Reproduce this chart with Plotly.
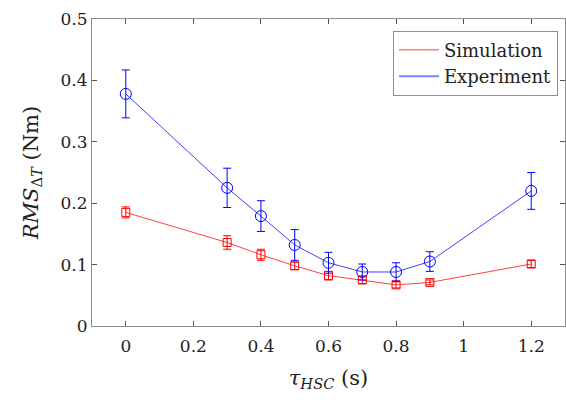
import plotly.graph_objects as go

tau = [0, 0.3, 0.4, 0.5, 0.6, 0.7, 0.8, 0.9, 1.2]
sim = [0.185, 0.136, 0.116, 0.098, 0.082, 0.075, 0.067, 0.071, 0.101]
sim_err = [0.009, 0.011, 0.009, 0.006, 0.007, 0.006, 0.005, 0.004, 0.006]
exp_ = [0.378, 0.225, 0.179, 0.132, 0.103, 0.088, 0.088, 0.105, 0.220]
exp_err = [0.039, 0.032, 0.025, 0.025, 0.017, 0.013, 0.015, 0.016, 0.030]
x_ticks = [0, 0.2, 0.4, 0.6, 0.8, 1, 1.2]
x_ticklabels = ["0", "0.2", "0.4", "0.6", "0.8", "1", "1.2"]
y_ticks = [0, 0.1, 0.2, 0.3, 0.4, 0.5]
y_ticklabels = ["0", "0.1", "0.2", "0.3", "0.4", "0.5"]

FONT = "DejaVu Serif"
fig = go.Figure()
fig.add_trace(go.Scatter(
    x=tau, y=sim, mode="lines+markers", showlegend=False,
    line=dict(color="rgba(255,0,0,0.75)", width=1),
    marker=dict(symbol="square-open", size=8, color="#ff0000", line=dict(width=1)),
    error_y=dict(type="data", array=sim_err, color="#ff0000", thickness=1, width=4)))
fig.add_trace(go.Scatter(
    x=tau, y=exp_, mode="lines+markers", showlegend=False,
    line=dict(color="rgba(0,0,255,0.75)", width=1),
    marker=dict(symbol="circle-open", size=11, color="#0000ff", line=dict(width=1)),
    error_y=dict(type="data", array=exp_err, color="#0000ff", thickness=1, width=4)))
fig.add_trace(go.Scatter(x=[None], y=[None], mode="lines", name="Simulation",
                         line=dict(color="rgba(255,0,0,0.75)", width=1)))
fig.add_trace(go.Scatter(x=[None], y=[None], mode="lines", name="Experiment",
                         line=dict(color="rgba(0,0,255,0.5)", width=2)))

axis_common = dict(showline=True, linecolor="#8c8c8c", linewidth=1, mirror="ticks",
                   ticks="inside", ticklen=5, tickcolor="#555555", showgrid=False,
                   zeroline=False, tickfont=dict(family=FONT, size=17, color="#222222"))
fig.update_xaxes(range=[-0.1, 1.3], tickmode="array",
                 tickvals=x_ticks, ticktext=x_ticklabels, ticklabelstandoff=5,
                 title=dict(text="<i>τ</i><sub><i>HSC</i></sub> (s)",
                            font=dict(family=FONT, size=21, color="#222222"), standoff=14),
                 **axis_common)
fig.update_yaxes(range=[0, 0.5], tickmode="array",
                 tickvals=y_ticks, ticktext=y_ticklabels,
                 title=dict(text="<i>RMS</i><sub>Δ<i>T</i></sub> (Nm)",
                            font=dict(family=FONT, size=21, color="#222222"), standoff=16),
                 **axis_common)
fig.update_layout(
    width=566, height=400, plot_bgcolor="white", paper_bgcolor="white",
    margin=dict(l=92, r=1, t=19, b=74),
    legend=dict(x=0.985, y=0.962, xanchor="right", yanchor="top",
                bgcolor="white", bordercolor="#8c8c8c", borderwidth=1,
                font=dict(family=FONT, size=18, color="#222222"),
                itemwidth=40, tracegroupgap=0),
)
fig.write_html("out.html", config={"displayModeBar": False},
               post_script="document.body.style.margin='0';document.body.style.overflow='hidden';")
